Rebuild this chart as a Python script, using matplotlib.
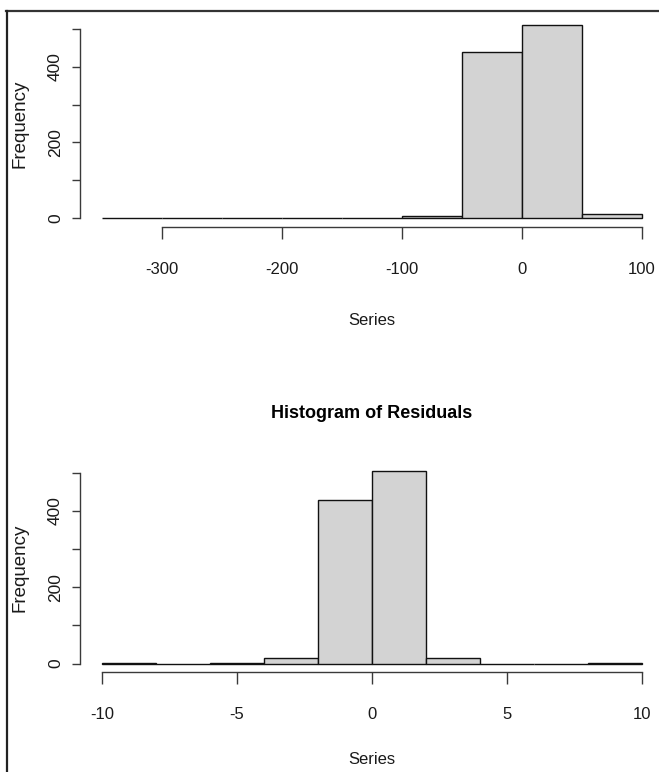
import matplotlib
matplotlib.use("Agg")
import matplotlib.pyplot as plt
from matplotlib.lines import Line2D

# top panel: histogram of the series
series_edges = [-350, -300, -250, -200, -150, -100, -50, 0, 50, 100]
series_counts = [1, 0, 0, 0, 1, 5, 438, 509, 11]
series_ticks = [-300, -200, -100, 0, 100]

# bottom panel: histogram of residuals
resid_edges = [-10, -8, -6, -4, -2, 0, 2, 4, 6, 8, 10]
resid_counts = [2, 0, 2, 15, 428, 505, 15, 0, 0, 2]
resid_ticks = [-10, -5, 0, 5, 10]

freq_ticks = [0, 100, 200, 300, 400, 500]
freq_labels = ["0", "", "200", "", "400", ""]

W, H = 659, 772
sans = ["Liberation Sans", "DejaVu Sans"]
axis_col = "#3a3a3a"
text_col = "#1a1a1a"

fig = plt.figure(figsize=(W / 100, H / 100), dpi=100)


def px_axes(left, right, y0, y500):
    return fig.add_axes([left / W, 1 - y0 / H, (right - left) / W, (y0 - y500) / H])


def draw_hist(ax, edges, counts, ticks):
    widths = [edges[i + 1] - edges[i] for i in range(len(counts))]
    ax.bar(edges[:-1], counts, width=widths, align="edge", color="#d3d3d3",
           edgecolor="#111111", linewidth=1.0, clip_on=False)
    ax.set_xlim(edges[0], edges[-1])
    ax.set_ylim(0, 500)
    for s in ["top", "right"]:
        ax.spines[s].set_visible(False)
    ax.spines["left"].set_position(("outward", 16))
    ax.spines["bottom"].set_position(("outward", 6))
    ax.spines["left"].set_bounds(0, 500)
    ax.spines["bottom"].set_bounds(ticks[0], ticks[-1])
    for s in ["left", "bottom"]:
        ax.spines[s].set_color(axis_col)
        ax.spines[s].set_linewidth(1.0)
    ax.set_xticks(ticks)
    ax.set_xticklabels([str(t) for t in ticks], family=sans, fontsize=12, color=text_col)
    ax.set_yticks(freq_ticks)
    ax.set_yticklabels(freq_labels, family=sans, fontsize=12.5, rotation=90,
                       va="center", color=text_col)
    ax.tick_params(axis="x", length=8.5, width=1.0, color=axis_col, pad=17)
    ax.tick_params(axis="y", length=6, width=1.0, color=axis_col, pad=6)
    ax.set_ylabel("Frequency", family=sans, fontsize=13.5, color=text_col, labelpad=14)
    ax.patch.set_alpha(0)


ax1 = px_axes(102, 642, 218.3, 28.7)
draw_hist(ax1, series_edges, series_counts, series_ticks)
fig.text(372 / W, 1 - 321 / H, "Series", family=sans, fontsize=12,
         ha="center", va="center", color=text_col)

ax2 = px_axes(102, 642, 663.5, 472.7)
draw_hist(ax2, resid_edges, resid_counts, resid_ticks)
fig.text(372 / W, 1 - 760 / H, "Series", family=sans, fontsize=12,
         ha="center", va="center", color=text_col)
fig.text(372 / W, 1 - 413 / H, "Histogram of Residuals", family=sans,
         fontsize=13, fontweight="bold", ha="center", va="center", color="#000000")

# frame around the screenshot (top and left edges only are visible)
fig.add_artist(Line2D([6 / W, 1], [1 - 10.5 / H, 1 - 10.5 / H], color="#333333", lw=1.6))
fig.add_artist(Line2D([6.5 / W, 6.5 / W], [0, 1 - 10.5 / H], color="#222222", lw=1.6))

fig.savefig("out.png", dpi=100)
